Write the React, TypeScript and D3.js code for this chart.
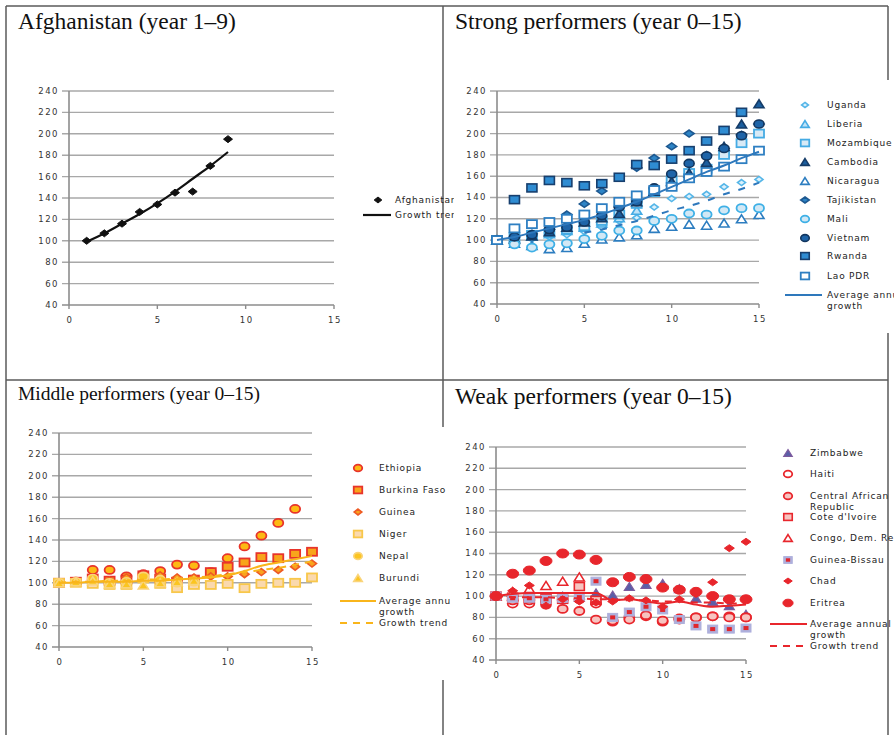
import React from 'react';
import * as d3 from 'd3';

// ---------- DATA ----------
const yTickValues = [40, 60, 80, 100, 120, 140, 160, 180, 200, 220, 240];
const xTickValues = [0, 5, 10, 15];

const afgYears = [1, 2, 3, 4, 5, 6, 7, 8, 9];
const afghanistan = [100, 107, 116, 127, 134, 145, 146, 170, 195];
const afgTrend = [99, 107, 116, 125, 135, 146, 158, 170, 183];

const years015 = [0, 1, 2, 3, 4, 5, 6, 7, 8, 9, 10, 11, 12, 13, 14, 15];

// Strong performers
const uganda = [100, 99, 101, 103, 105, 108, 112, 118, 121, 131, 139, 141, 143, 150, 154, 157];
const liberia = [100, 102, 104, 106, 109, 112, 116, 121, 128, null, null, null, null, null, null, null];
const mozambique = [100, 103, 105, 107, 110, 113, 118, 124, 134, 145, 156, 163, 167, 180, 191, 200];
const cambodia = [100, 101, 104, 108, 112, 117, 121, 125, 136, 146, 155, 163, 173, 188, 209, 228];
const nicaragua = [100, 97, 95, 92, 93, 97, 101, 103, 105, 111, 113, 115, 114, 116, 120, 124];
const tajikistan = [100, 103, 106, 110, 124, 134, 146, 131, 168, 177, 188, 200, 180, 186, 199, 209];
const mali = [100, 96, 93, 96, 97, 101, 104, 109, 109, 118, 120, 125, 124, 128, 130, 130];
const vietnam = [100, 103, 105, 110, 112, 117, 123, 131, 136, 149, 162, 172, 179, 186, 198, 209];
const rwanda = [100, 138, 149, 156, 154, 151, 153, 159, 171, 170, 176, 184, 193, 203, 220, null];
const laoPdr = [100, 111, 115, 117, 120, 124, 130, 136, 142, 147, 150, 158, 164, 169, 176, 184];
const strongAvg = [100, 103, 107, 111, 115, 119, 124, 130, 136, 143, 150, 157, 164, 170, 177, 183];
const strongTrendYears = [5, 6, 7, 8, 9, 10, 11, 12, 13, 14, 15];
const strongTrend = [107, 110, 114, 118, 123, 128, 132, 137, 143, 148, 154];

// Middle performers
const ethiopia = [100, 101, 112, 112, 106, 108, 111, 117, 116, 110, 123, 134, 144, 156, 169, null];
const burkinaFaso = [100, 101, 104, 102, 103, 107, 104, 101, 103, 110, 115, 119, 124, 123, 127, 129];
const guinea = [100, 101, 103, 102, 105, 104, 107, 105, 105, 106, 106, 108, 110, 112, 115, 118];
const niger = [100, 100, 99, 98, 98, 104, 99, 95, 98, 98, 99, 95, 99, 100, 100, 105];
const nepal = [100, 101, 104, 100, 101, 106, 103, 100, 101, null, null, null, null, null, null, null];
const burundi = [100, 101, 102, 99, 99, 98, 100, 101, 102, null, null, null, null, null, null, null];
const middleAvg = [100, 100, 101, 101, 101, 102, 102, 103, 104, 105, 107, 111, 116, 119, 122, 125];
const middleTrend = [100, 101, 101, 102, 102, 103, 103, 104, 105, 106, 108, 110, 112, 114, 117, 120];

// Weak performers
const zimbabwe = [100, 100, 101, 99, 100, 99, 103, 101, 109, 111, 112, 107, 98, 95, 91, 83];
const haiti = [100, 93, 93, 95, 97, 97, 93, 76, 80, 81, 76, 78, 80, 81, 81, 80];
const centralAfrican = [100, 96, 96, 92, 88, 86, 78, 77, 78, 82, 77, 79, 80, 81, 80, 80];
const coteDIvoire = [100, 99, 98, 98, 97, 109, 96, null, null, null, null, null, null, null, null, null];
const congo = [100, 104, 107, 110, 114, 118, null, null, null, null, null, null, null, null, null, null];
const guineaBissau = [100, 98, 98, 97, 98, 99, 114, 80, 85, 90, 87, 78, 72, 69, 69, 70];
const chad = [100, 105, 110, 91, 97, 95, 94, 95, 98, 96, 90, 97, 102, 113, 145, 151];
const eritrea = [100, 121, 124, 133, 140, 139, 134, 113, 118, 116, 108, 106, 104, 100, 97, 97];
const weakAvg = [100, 102, 103, 103, 103, 103, 103, 96, 97, 95, 93, 95, 92, 90, 91, 92];
const weakTrend = [100, 99, 99, 99, 98, 98, 97, 97, 96, 96, 95, 95, 94, 94, 93, 93];

// ---------- TYPES ----------
type Shape = 'circle' | 'square' | 'triangle' | 'diamond' | 'squareDot';
interface Series {
  name: string[];
  years: number[];
  values: (number | null)[];
  shape: Shape;
  w: number;
  h: number;
  fill: string;
  stroke: string;
  sw: number;
  inner?: string;
  legendY: number;
}
interface LineSpec {
  years: number[];
  values: number[];
  color: string;
  width: number;
  dash?: string;
  curve?: boolean;
  legend?: { y: number; labels: string[] };
}
interface PanelSpec {
  id: string;
  title: string;
  titleX: number;
  titleY: number;
  titleSize: number;
  xr: [number, number];
  yr: [number, number];
  series: Series[];
  lines: LineSpec[];
  legendMarkerX: number;
  legendTextX: number;
  legendLineX: [number, number];
  clipRight: number;
}

function Marker({ s, x, y, scale = 1 }: { s: Series; x: number; y: number; scale?: number }) {
  const w = s.w * scale;
  const h = s.h * scale;
  const common = { fill: s.fill, stroke: s.stroke, strokeWidth: s.sw };
  switch (s.shape) {
    case 'circle':
      return <ellipse cx={x} cy={y} rx={w / 2} ry={h / 2} {...common} />;
    case 'square':
      return <rect x={x - w / 2} y={y - h / 2} width={w} height={h} {...common} />;
    case 'squareDot':
      return (
        <g>
          <rect x={x - w / 2} y={y - h / 2} width={w} height={h} fill={s.fill} stroke={s.stroke} strokeWidth={s.sw} />
          <rect x={x - w / 4} y={y - h / 4} width={w / 2} height={h / 2} fill={s.inner} />
        </g>
      );
    case 'triangle':
      return <polygon points={`${x},${y - h / 2} ${x + w / 2},${y + h / 2} ${x - w / 2},${y + h / 2}`} {...common} />;
    case 'diamond':
    default:
      return <polygon points={`${x},${y - h / 2} ${x + w / 2},${y} ${x},${y + h / 2} ${x - w / 2},${y}`} {...common} />;
  }
}

const TICK_FONT = { fontFamily: 'DejaVu Sans, Verdana, sans-serif', fontSize: 8.5, letterSpacing: 1.5, fill: '#333' };
const LEG_FONT = { fontFamily: 'DejaVu Sans, Verdana, sans-serif', fontSize: 9, letterSpacing: 0.8, fill: '#222' };

function Panel({ p }: { p: PanelSpec }) {
  const x = d3.scaleLinear().domain([0, 15]).range(p.xr);
  const y = d3.scaleLinear().domain([40, 240]).range(p.yr);
  return (
    <g>
      <text x={p.titleX} y={p.titleY} fontFamily="Liberation Serif, Times New Roman, serif" fontSize={p.titleSize} fill="#111">
        {p.title}
      </text>
      {yTickValues.map((t) => (
        <line key={t} x1={x(0) - 7} x2={x(15)} y1={y(t)} y2={y(t)} stroke={t === 40 ? '#8c8c8c' : '#a8a8a8'} strokeWidth={1.4} />
      ))}
      <line x1={x(0)} x2={x(0)} y1={y(240)} y2={y(40)} stroke="#8c8c8c" strokeWidth={1.6} />
      {xTickValues.map((t) => (
        <line key={t} x1={x(t)} x2={x(t)} y1={y(40)} y2={y(40) + 4} stroke="#8c8c8c" strokeWidth={1.4} />
      ))}
      {yTickValues.map((t) => (
        <text key={t} x={x(0) - 10} y={y(t)} dy="0.35em" textAnchor="end" {...TICK_FONT}>
          {t}
        </text>
      ))}
      {xTickValues.map((t) => (
        <text key={t} x={x(t) + 1} y={y(40) + 18} textAnchor="middle" {...TICK_FONT}>
          {t}
        </text>
      ))}
      {p.series.map((s, i) => (
        <g key={i}>
          {s.values.map((v, j) =>
            v == null ? null : <Marker key={j} s={s} x={x(s.years[j])} y={y(v)} />
          )}
        </g>
      ))}
      {p.lines.map((l, i) => {
        const gen = d3
          .line<number>()
          .x((_, j) => x(l.years[j]))
          .y((v) => y(v))
          .curve(l.curve ? d3.curveMonotoneX : d3.curveLinear);
        return (
          <path key={i} d={gen(l.values) || ''} fill="none" stroke={l.color} strokeWidth={l.width} strokeDasharray={l.dash} />
        );
      })}
      <g clipPath={`url(#clip-${p.id})`}>
        {p.series.map((s, i) => (
          <g key={i}>
            <Marker s={s} x={p.legendMarkerX} y={s.legendY} scale={0.85} />
            {s.name.map((n, k) => (
              <text key={k} x={p.legendTextX} y={s.legendY + k * 11} dy="0.35em" {...LEG_FONT}>
                {n}
              </text>
            ))}
          </g>
        ))}
        {p.lines
          .filter((l) => l.legend)
          .map((l, i) => (
            <g key={i}>
              <line
                x1={p.legendLineX[0]}
                x2={p.legendLineX[1]}
                y1={l.legend!.y}
                y2={l.legend!.y}
                stroke={l.color}
                strokeWidth={l.width}
                strokeDasharray={l.dash}
              />
              {l.legend!.labels.map((n, k) => (
                <text key={k} x={p.legendTextX} y={l.legend!.y + k * 11} dy="0.35em" {...LEG_FONT}>
                  {n}
                </text>
              ))}
            </g>
          ))}
      </g>
    </g>
  );
}

const BLK = '#111';
const panels: PanelSpec[] = [
  {
    id: 'afg',
    title: 'Afghanistan (year 1\u20139)',
    titleX: 18,
    titleY: 29,
    titleSize: 23.5,
    xr: [69, 334],
    yr: [305, 91],
    series: [
      { name: ['Afghanistan'], years: afgYears, values: afghanistan, shape: 'diamond', w: 9, h: 7, fill: BLK, stroke: BLK, sw: 1, legendY: 200 },
    ],
    lines: [{ years: afgYears, values: afgTrend, color: BLK, width: 2.2, curve: true, legend: { y: 215, labels: ['Growth trend'] } }],
    legendMarkerX: 378,
    legendTextX: 395,
    legendLineX: [363, 391],
    clipRight: 454,
  },
  {
    id: 'strong',
    title: 'Strong performers (year 0\u201315)',
    titleX: 455,
    titleY: 29,
    titleSize: 23.5,
    xr: [497, 759],
    yr: [304, 91],
    series: [
      { name: ['Uganda'], years: years015, values: uganda, shape: 'diamond', w: 8, h: 6, fill: '#dcf0fb', stroke: '#55b6e8', sw: 1.6, legendY: 105 },
      { name: ['Liberia'], years: years015, values: liberia, shape: 'triangle', w: 10, h: 8, fill: '#bfe2f7', stroke: '#45abe4', sw: 1.6, legendY: 124 },
      { name: ['Mozambique'], years: years015, values: mozambique, shape: 'square', w: 10, h: 8, fill: '#d8eaf6', stroke: '#45abe4', sw: 1.8, legendY: 143 },
      { name: ['Cambodia'], years: years015, values: cambodia, shape: 'triangle', w: 10, h: 8, fill: '#1b5e9e', stroke: '#153c68', sw: 1.6, legendY: 162 },
      { name: ['Nicaragua'], years: years015, values: nicaragua, shape: 'triangle', w: 10, h: 8, fill: '#ffffff', stroke: '#2c7dc0', sw: 1.6, legendY: 181 },
      { name: ['Tajikistan'], years: years015, values: tajikistan, shape: 'diamond', w: 10, h: 7, fill: '#2d84c6', stroke: '#1d5890', sw: 1.6, legendY: 200 },
      { name: ['Mali'], years: years015, values: mali, shape: 'circle', w: 10, h: 8, fill: '#d2e8f5', stroke: '#3eb0e6', sw: 1.8, legendY: 219 },
      { name: ['Vietnam'], years: years015, values: vietnam, shape: 'circle', w: 10, h: 8, fill: '#1e64a8', stroke: '#12365f', sw: 1.6, legendY: 238 },
      { name: ['Rwanda'], years: years015, values: rwanda, shape: 'square', w: 10, h: 8, fill: '#2f8cd2', stroke: '#173f6e', sw: 1.6, legendY: 256 },
      { name: ['Lao PDR'], years: years015, values: laoPdr, shape: 'square', w: 10, h: 8, fill: '#ffffff', stroke: '#2e7fc2', sw: 1.8, legendY: 276 },
    ],
    lines: [
      { years: years015, values: strongAvg, color: '#2e78bc', width: 2, curve: true, legend: { y: 295, labels: ['Average annual', 'growth'] } },
      { years: strongTrendYears, values: strongTrend, color: '#2e78bc', width: 2, dash: '7 9', curve: true },
    ],
    legendMarkerX: 805,
    legendTextX: 827,
    legendLineX: [785, 822],
    clipRight: 894,
  },
  {
    id: 'middle',
    title: 'Middle performers (year 0\u201315)',
    titleX: 18,
    titleY: 400,
    titleSize: 19.5,
    xr: [59, 312],
    yr: [647, 433],
    series: [
      { name: ['Ethiopia'], years: years015, values: ethiopia, shape: 'circle', w: 10, h: 8, fill: '#fdb913', stroke: '#e8342a', sw: 1.8, legendY: 468 },
      { name: ['Burkina Faso'], years: years015, values: burkinaFaso, shape: 'square', w: 10, h: 8, fill: '#f8a51b', stroke: '#e8342a', sw: 1.8, legendY: 490 },
      { name: ['Guinea'], years: years015, values: guinea, shape: 'diamond', w: 9, h: 7, fill: '#f9a31e', stroke: '#ee5a24', sw: 1.6, legendY: 512 },
      { name: ['Niger'], years: years015, values: niger, shape: 'square', w: 10, h: 8, fill: '#fad9ae', stroke: '#f8c74a', sw: 1.8, legendY: 534 },
      { name: ['Nepal'], years: years015, values: nepal, shape: 'circle', w: 10, h: 8, fill: '#fbc521', stroke: '#fad47a', sw: 1.6, legendY: 556 },
      { name: ['Burundi'], years: years015, values: burundi, shape: 'triangle', w: 10, h: 8, fill: '#fbc521', stroke: '#fad47a', sw: 1.6, legendY: 578 },
    ],
    lines: [
      { years: years015, values: middleAvg, color: '#f9b51b', width: 2, curve: true, legend: { y: 601, labels: ['Average annual', 'growth'] } },
      { years: years015, values: middleTrend, color: '#f9b51b', width: 2, dash: '7 6', curve: true, legend: { y: 623, labels: ['Growth trend'] } },
    ],
    legendMarkerX: 358,
    legendTextX: 379,
    legendLineX: [340, 376],
    clipRight: 450,
  },
  {
    id: 'weak',
    title: 'Weak performers (year 0\u201315)',
    titleX: 455,
    titleY: 404,
    titleSize: 23.5,
    xr: [496, 746],
    yr: [660, 447],
    series: [
      { name: ['Zimbabwe'], years: years015, values: zimbabwe, shape: 'triangle', w: 10, h: 8, fill: '#5a5fa8', stroke: '#7d5b9e', sw: 1.2, legendY: 453 },
      { name: ['Haiti'], years: years015, values: haiti, shape: 'circle', w: 10, h: 8, fill: '#ffffff', stroke: '#e8262c', sw: 1.8, legendY: 474 },
      { name: ['Central African', 'Republic'], years: years015, values: centralAfrican, shape: 'circle', w: 10, h: 8, fill: '#f7c4c0', stroke: '#e8262c', sw: 1.8, legendY: 496 },
      { name: ["Cote d'Ivoire"], years: years015, values: coteDIvoire, shape: 'square', w: 10, h: 8, fill: '#f7c4c0', stroke: '#e8262c', sw: 1.6, legendY: 517 },
      { name: ['Congo, Dem. Rep.'], years: years015, values: congo, shape: 'triangle', w: 10, h: 8, fill: '#ffffff', stroke: '#e8262c', sw: 1.6, legendY: 538 },
      { name: ['Guinea-Bissau'], years: years015, values: guineaBissau, shape: 'squareDot', w: 10, h: 8, fill: '#aeb0dc', stroke: '#aeb0dc', sw: 1, inner: '#e0262c', legendY: 560 },
      { name: ['Chad'], years: years015, values: chad, shape: 'diamond', w: 10, h: 7, fill: '#e8262c', stroke: '#e8262c', sw: 1, legendY: 581 },
      { name: ['Eritrea'], years: years015, values: eritrea, shape: 'circle', w: 12, h: 9, fill: '#e8262c', stroke: '#e8262c', sw: 1, legendY: 603 },
    ],
    lines: [
      { years: years015, values: weakAvg, color: '#e8262c', width: 2, curve: true, legend: { y: 624, labels: ['Average annual', 'growth'] } },
      { years: years015, values: weakTrend, color: '#e8262c', width: 2, dash: '7 6', legend: { y: 646, labels: ['Growth trend'] } },
    ],
    legendMarkerX: 788,
    legendTextX: 810,
    legendLineX: [770, 807],
    clipRight: 894,
  },
];

export default function App() {
  const border = '#5a5a5a';
  return (
    <svg
      width={894}
      height={735}
      viewBox="0 0 894 735"
      style={{ position: 'absolute', left: 0, top: 0, display: 'block', background: '#fff' }}
    >
      <defs>
        {panels.map((p) => (
          <clipPath key={p.id} id={`clip-${p.id}`}>
            <rect x={0} y={0} width={p.clipRight} height={735} />
          </clipPath>
        ))}
      </defs>
      <rect width={894} height={735} fill="#fff" />
      <g stroke={border} strokeWidth={1.5}>
        <line x1={6} x2={888} y1={6} y2={6} />
        <line x1={6} x2={6} y1={6} y2={735} />
        <line x1={443} x2={443} y1={6} y2={427} />
        <line x1={443} x2={443} y1={680} y2={735} />
        <line x1={6} x2={888} y1={380} y2={380} />
        <line x1={888} x2={888} y1={6} y2={80} />
        <line x1={888} x2={888} y1={333} y2={735} />
      </g>
      {panels.map((p) => (
        <Panel key={p.id} p={p} />
      ))}
    </svg>
  );
}
